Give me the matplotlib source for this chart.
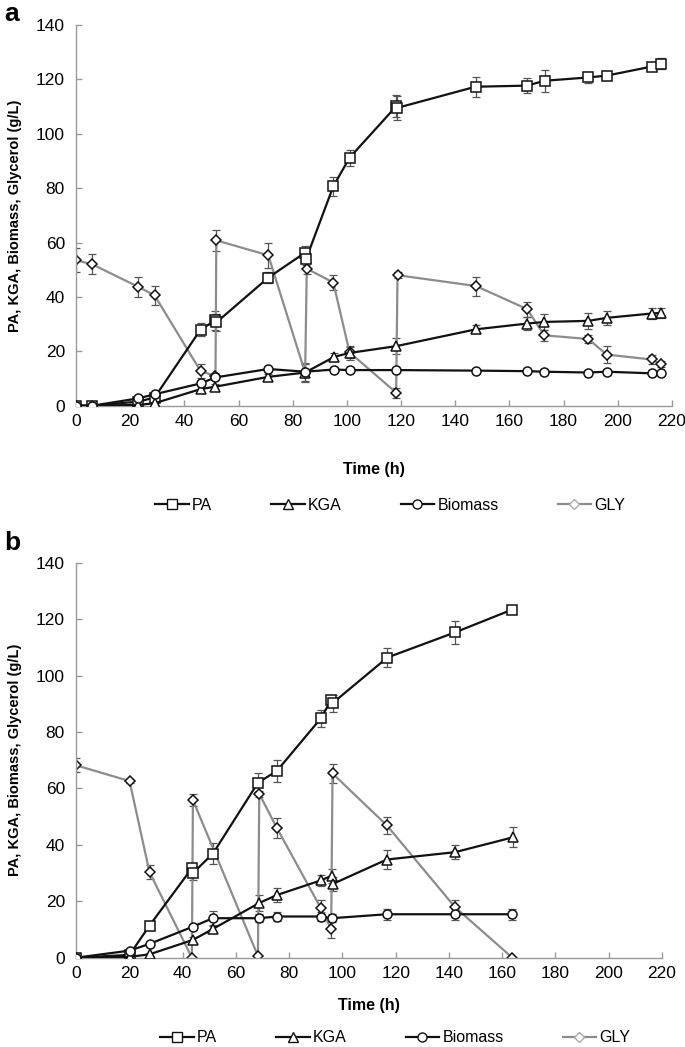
import matplotlib
matplotlib.use("Agg")
import matplotlib.pyplot as plt
from matplotlib.lines import Line2D

plt.rcParams['font.family'] = ['Liberation Sans', 'DejaVu Sans']

# ---------------- Panel a data ----------------
pa_a_t = [0, 6, 23, 29, 46, 51.5, 51.8, 71, 84.6, 85, 95, 101, 118.2, 118.5, 147.5, 166.5, 173, 189, 196, 212.5, 215.8]
pa_a_v = [0, 0, 1.5, 3, 28, 31.4, 30.6, 47.1, 56.3, 54.1, 80.7, 91.2, 110.1, 109.5, 117.3, 117.7, 119.5, 120.7, 121.4, 124.7, 125.7]
pa_a_e = [0, 0, 0.5, 0.5, 2.5, 3.5, 3, 2, 2.5, 2.5, 3.5, 3, 4, 4.5, 3.7, 2.7, 4, 2, 1.6, 1, 2]

kga_a_t = [0, 6, 23, 29, 46, 51.5, 71, 84.6, 95.4, 101, 118.2, 147.7, 166.5, 172.8, 189.2, 195.9, 212.5, 215.9]
kga_a_v = [0, 0, 0.3, 0.9, 6.1, 7, 10.6, 12.2, 18, 19.4, 21.9, 28.1, 30.2, 30.8, 31.2, 32.3, 33.9, 34.1]
kga_a_e = [0, 0, 0.3, 0.5, 1, 1, 1, 3, 1.5, 2.5, 3, 1.5, 2.5, 3, 3, 2.5, 2, 2]

bio_a_t = [0, 6, 23, 29, 46, 51.5, 71, 84.6, 95.1, 101, 118.2, 147.7, 166.5, 172.8, 189.2, 195.9, 212.5, 215.9]
bio_a_v = [0, 0, 2.7, 4.2, 8.2, 10.4, 13.5, 12.5, 13.3, 13.1, 13.1, 12.9, 12.7, 12.5, 12.2, 12.5, 11.9, 11.9]
bio_a_e = [0, 0, 0.5, 0.5, 0.8, 0.8, 0.8, 0.8, 0.8, 0.8, 0.8, 0.6, 0.6, 0.6, 0.6, 0.6, 0.6, 0.6]

gly_a_t = [0, 6, 23, 29, 46, 51.5, 51.8, 71, 84.6, 85.2, 95, 101, 118.2, 118.7, 147.7, 166.6, 172.8, 189.2, 195.9, 212.5, 215.9]
gly_a_v = [53.5, 52, 43.7, 40.6, 12.7, 10.9, 60.8, 55.3, 12.1, 50.4, 45.3, 19.6, 4.8, 48, 44, 35.5, 25.9, 24.5, 18.8, 17, 15.3]
gly_a_e = [4.5, 3.7, 3.7, 3.4, 2.5, 1, 3.9, 4.5, 3.5, 2, 2.7, 2, 1.8, 1, 3.5, 2.8, 2, 1.5, 3.2, 1.5, 1]

# ---------------- Panel b data ----------------
pa_b_t = [0, 20.1, 27.6, 43.5, 43.9, 51.4, 68.3, 75.4, 91.9, 95.8, 96.3, 116.9, 142.3, 163.8]
pa_b_v = [0, 1, 11.4, 31.7, 30, 36.9, 62, 66.2, 84.8, 91.3, 90.2, 106.4, 115.3, 123.4]
pa_b_e = [0, 0.3, 1, 1.5, 2.5, 3.7, 3.3, 4, 3, 1, 3, 3.5, 4, 0]

kga_b_t = [0, 20.1, 27.6, 43.9, 51.4, 68.8, 75.4, 91.9, 96.1, 96.3, 116.7, 142.3, 164.2]
kga_b_v = [0, 0.3, 1.2, 6.3, 10.2, 19.4, 22.2, 27.4, 29.1, 26.1, 34.8, 37.4, 42.7]
kga_b_e = [0, 0, 0.5, 1, 1, 3, 2.5, 2, 2.5, 2.5, 3.5, 2.5, 3.5]

bio_b_t = [0, 20.1, 27.6, 43.9, 51.4, 68.8, 75.4, 91.9, 96.1, 116.7, 142.3, 163.8]
bio_b_v = [0, 2.5, 4.9, 11, 14, 14, 14.6, 14.6, 14, 15.4, 15.4, 15.4]
bio_b_e = [0, 0.5, 0.5, 1, 2.5, 1.5, 1.5, 1.5, 1.5, 2, 2, 2]

gly_b_t = [0, 20.1, 27.6, 43.5, 43.9, 68.3, 68.8, 75.4, 91.9, 95.8, 96.3, 116.7, 142.3, 163.8]
gly_b_v = [68.2, 62.6, 30.3, 0, 55.9, 0.6, 58.1, 46, 17.6, 10.1, 65.3, 46.9, 17.9, 0]
gly_b_e = [2.5, 0.8, 2.5, 0, 2, 0, 1, 3.5, 3, 3, 3.5, 3, 2.5, 0]

x_ticks = [0, 20, 40, 60, 80, 100, 120, 140, 160, 180, 200, 220]
y_ticks = [0, 20, 40, 60, 80, 100, 120, 140]
labels = ['PA', 'KGA', 'Biomass', 'GLY']

W, H = 685, 1047
fig = plt.figure(figsize=(W / 100, H / 100), dpi=100)

AX_GRAY = '#999999'
ERR = '#555555'


def draw_panel(rect, series, xlabpad, leg_x, leg_y):
    ax = fig.add_axes(rect)
    order = [3, 0, 1, 2]
    handles = [None] * 4
    for i in order:
        t, v, e, mk, col, ms = series[i]
        ax.errorbar(t, v, yerr=e, fmt='none', ecolor=ERR, elinewidth=0.9,
                    capsize=3, capthick=0.9, zorder=2)
        ax.plot(t, v, color=col, lw=1.6, marker=mk, ms=ms,
                mfc='white', mec='#111111', mew=1.1, zorder=3 if i != 3 else 2.5)
        handles[i] = Line2D([], [], color=col, lw=1.6, marker=mk, ms=ms,
                            mfc='white', mec=col if i != 3 else '#aaaaaa', mew=1.0)
    ax.set_xlim(0, 220)
    ax.set_ylim(0, 140)
    ax.set_xticks(x_ticks)
    ax.set_yticks(y_ticks)
    for s in ['top', 'right']:
        ax.spines[s].set_visible(False)
    for s in ['left', 'bottom']:
        ax.spines[s].set_color(AX_GRAY)
        ax.spines[s].set_linewidth(1.0)
    ax.tick_params(axis='both', direction='in', length=4, width=1.0,
                   color=AX_GRAY, labelsize=12.5)
    ax.tick_params(axis='y', pad=8)
    ax.tick_params(axis='x', pad=6)
    ax.set_xlabel('Time (h)', fontsize=11.5, fontweight='bold', labelpad=xlabpad)
    ax.set_ylabel('PA, KGA, Biomass, Glycerol (g/L)', fontsize=10.5,
                  fontweight='bold')
    ax.yaxis.set_label_coords(-54 / (rect[2] * W), 0.5)
    fig.legend(handles, labels, loc='center left',
               bbox_to_anchor=(leg_x / W, leg_y), bbox_transform=fig.transFigure,
               ncol=4, frameon=False, fontsize=11.5, handlelength=2.1,
               handletextpad=0.2, columnspacing=3.7, borderpad=0, borderaxespad=0)
    return ax


series_a = [
    (pa_a_t, pa_a_v, pa_a_e, 's', '#111111', 6.5),
    (kga_a_t, kga_a_v, kga_a_e, '^', '#111111', 6.5),
    (bio_a_t, bio_a_v, bio_a_e, 'o', '#111111', 6.5),
    (gly_a_t, gly_a_v, gly_a_e, 'D', '#8c8c8c', 5),
]
series_b = [
    (pa_b_t, pa_b_v, pa_b_e, 's', '#111111', 6.5),
    (kga_b_t, kga_b_v, kga_b_e, '^', '#111111', 6.5),
    (bio_b_t, bio_b_v, bio_b_e, 'o', '#111111', 6.5),
    (gly_b_t, gly_b_v, gly_b_e, 'D', '#8c8c8c', 5),
]

ax_a = draw_panel([76 / W, 1 - 405.7 / H, (671.9 - 76) / W, (405.7 - 25) / H],
                  series_a, 24, 155, 1 - 505 / H)
ax_b = draw_panel([76 / W, 1 - 957.7 / H, (662 - 76) / W, (957.7 - 562.7) / H],
                  series_b, 12, 160, 1 - 1038 / H)

fig.text(4 / W, 1 - 14 / H, 'a', fontsize=19, fontweight='bold', va='center', ha='left')
fig.text(4 / W, 1 - 543 / H, 'b', fontsize=19, fontweight='bold', va='center', ha='left')

fig.savefig('out.png', dpi=100)
